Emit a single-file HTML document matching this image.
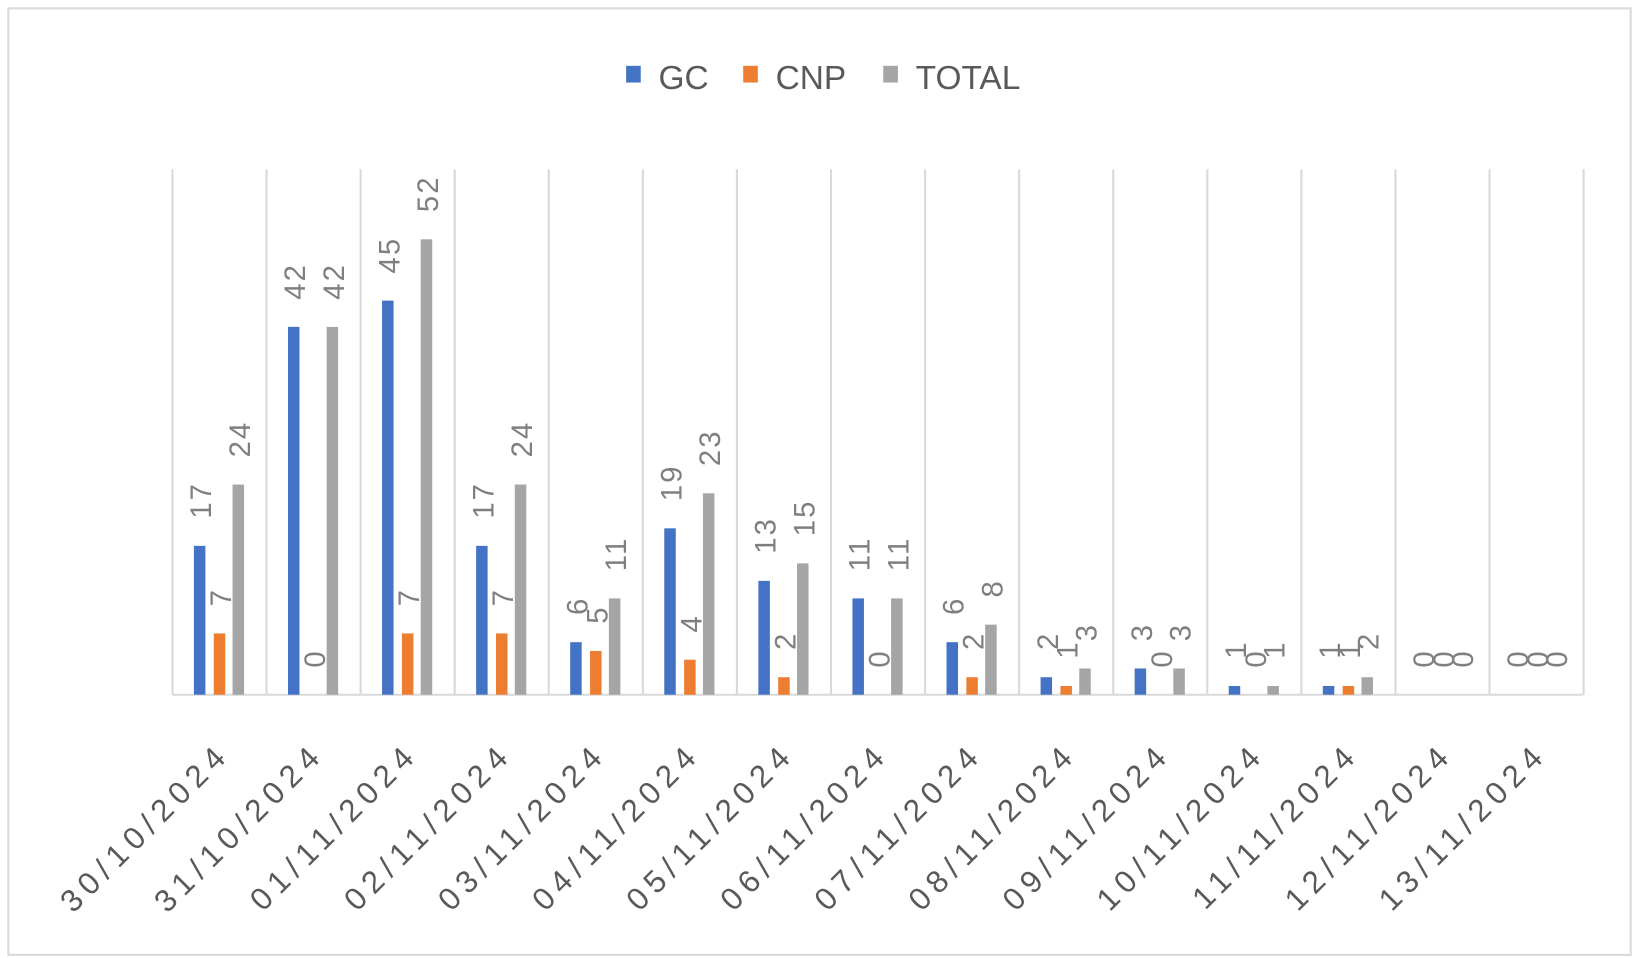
<!DOCTYPE html>
<html><head><meta charset="utf-8"><style>
html,body{margin:0;padding:0;background:#fff;}
svg{display:block;font-family:"Liberation Sans","DejaVu Sans",sans-serif;}
</style></head><body>
<svg id="chart" width="1639" height="958" viewBox="0 0 1568 917" preserveAspectRatio="none" xmlns="http://www.w3.org/2000/svg">
<rect x="8" y="8" width="1552" height="906" fill="#fff" stroke="#d9d9d9" stroke-width="2"/>
<g>
<g><rect x="599" y="63" width="14" height="16" fill="#4472C4"/><text x="630" y="85" font-size="32" fill="#595959">GC</text></g>
<g><rect x="711" y="63" width="14" height="16" fill="#ED7D31"/><text x="742" y="85" font-size="32" fill="#595959">CNP</text></g>
<g><rect x="845" y="63" width="14" height="16" fill="#A5A5A5"/><text x="876" y="85" font-size="32" fill="#595959">TOTAL</text></g>
</g>
<g id="grid"></g><g id="bars"></g><g id="labels"></g><g id="xlabels"></g>
</svg>
<script>
const categories=["30/10/2024","31/10/2024","01/11/2024","02/11/2024","03/11/2024","04/11/2024","05/11/2024","06/11/2024","07/11/2024","08/11/2024","09/11/2024","10/11/2024","11/11/2024","12/11/2024","13/11/2024"];
const gcValues=[17,42,45,17,6,19,13,11,6,2,3,1,1,0,0];
const cnpValues=[7,0,7,7,5,4,2,0,2,1,0,0,1,0,0];
const totalValues=[24,42,52,24,11,23,15,11,8,3,3,1,2,0,0];
const yMax=60;
const NS="http://www.w3.org/2000/svg";
const L=165,R=1515,T=162,B=665;
const bw=(R-L)/categories.length;
function xC(i){return L+bw*(i+0.5);}
function y(v){return B-(v/yMax)*(B-T);}
function mk(tag,attrs,parent){const e=document.createElementNS(NS,tag);for(const k in attrs)e.setAttribute(k,attrs[k]);parent.appendChild(e);return e;}
const grid=document.getElementById('grid'),bars=document.getElementById('bars'),labels=document.getElementById('labels'),xl=document.getElementById('xlabels');
for(let i=0;i<=categories.length;i++){
  const l=mk('line',{x1:L+bw*i,x2:L+bw*i,y1:T,y2:B,stroke:'#d9d9d9','stroke-width':2},grid);
  
  
}
const ax=mk('line',{x1:L,x2:R,y1:B,y2:B,stroke:'#d9d9d9','stroke-width':2},grid);


const series=[[gcValues,'#4472C4',-19,'gc'],[cnpValues,'#ED7D31',0,'cnp'],[totalValues,'#A5A5A5',18,'total']];
categories.forEach((c,i)=>{
  series.forEach(([vals,col,off,nm])=>{
    const v=vals[i],cx=xC(i)+off;
    const r=mk('rect',{x:cx-5.5,y:y(v),width:11,height:B-y(v),fill:col},bars);
    
    
    const ly=y(v)-26;
    const t=mk('text',{x:0,y:0,'font-size':28,fill:'#7f7f7f','letter-spacing':'2',transform:`translate(${cx+11},${ly}) rotate(-90)`},labels);
    t.textContent=v;
    
    
  });
  const t=mk('text',{x:0,y:0,'font-size':30,fill:'#595959','text-anchor':'end','letter-spacing':'6.5',transform:`translate(${xC(i)+12},${B+58}) rotate(-45)`},xl);
  t.textContent=c;
  
  
});
</script>
</body></html>
